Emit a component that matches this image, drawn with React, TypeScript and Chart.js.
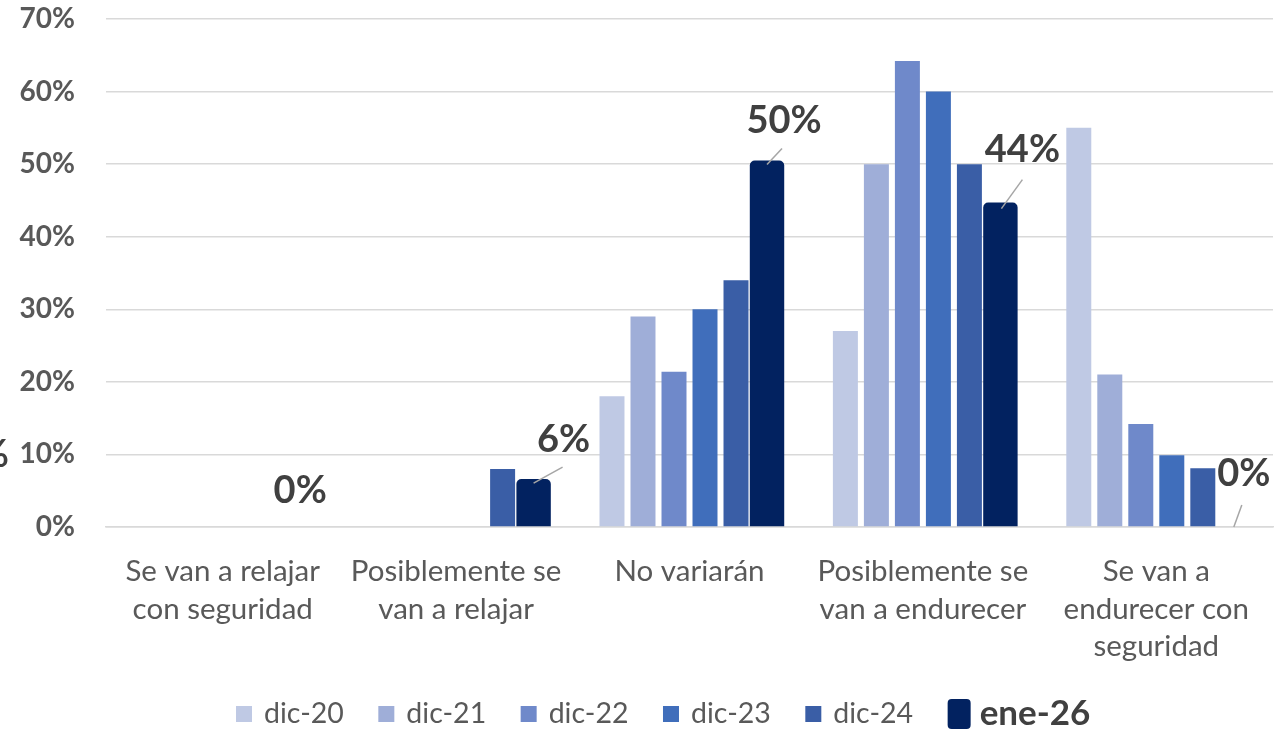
import React, { useEffect, useRef } from "react";
import { Chart, registerables } from "chart.js";

Chart.register(...registerables);

const categories: string[][] = [
  ["Se van a relajar", "con seguridad"],
  ["Posiblemente se", "van a relajar"],
  ["No variarán"],
  ["Posiblemente se", "van a endurecer"],
  ["Se van a", "endurecer con", "seguridad"],
];
const seriesNames = ["dic-20", "dic-21", "dic-22", "dic-23", "dic-24", "ene-26"];
const dic20 = [0, 0, 18, 27, 55];
const dic21 = [0, 0, 29, 50, 21];
const dic22 = [0, 0, 21.4, 64.2, 14.2];
const dic23 = [0, 0, 30, 60, 9.9];
const dic24 = [0, 8, 34, 50, 8.1];
const ene26 = [0, 6.6, 50.5, 44.7, 0];
const ene26Labels = ["0%", "6%", "50%", "44%", "0%"];
const yTickValues = [0, 10, 20, 30, 40, 50, 60, 70];

const seriesColors = ["#BFC9E4", "#9FAED8", "#6F89CA", "#406EBB", "#3A5EA6", "#022260"];
// label text offset (dx, dy) and leader line (x1,y1,x2,y2) relative to bar top
const labelStyle = [
  { dx: 0, dy: -36, line: null as null | number[] },
  { dx: 30, dy: -39, line: [0, 4, 29, -12] },
  { dx: 17, dy: -40, line: [0, 4, 15, -12] },
  { dx: 22, dy: -53, line: [1, 6, 22, -23] },
  { dx: 10, dy: -53, line: [0, 0, 8, -22] },
];

const FONT = "Lato, 'Noto Sans', sans-serif";

const labelsPlugin = {
  id: "eneLabels",
  afterDatasetsDraw(chart: any) {
    const ctx = chart.ctx;
    const meta = chart.getDatasetMeta(5);
    ctx.save();
    meta.data.forEach((el: any, i: number) => {
      const st = labelStyle[i];
      if (st.line) {
        ctx.strokeStyle = "#A6A6A6";
        ctx.lineWidth = 1.5;
        ctx.beginPath();
        ctx.moveTo(el.x + st.line[0], el.y + st.line[1]);
        ctx.lineTo(el.x + st.line[2], el.y + st.line[3]);
        ctx.stroke();
      }
      ctx.fillStyle = "#404040";
      ctx.font = `bold 38px ${FONT}`;
      ctx.textAlign = "center";
      ctx.textBaseline = "middle";
      ctx.fillText(ene26Labels[i], el.x + st.dx, el.y + st.dy);
    });
    // stray clipped label at left edge
    ctx.textAlign = "right";
    ctx.fillText("%", 9, 455);
    ctx.restore();
  },
  afterDraw(chart: any) {
    const ctx = chart.ctx;
    ctx.save();
    let x = 236;
    const yc = 714;
    ctx.textBaseline = "middle";
    ctx.textAlign = "left";
    seriesNames.forEach((name, i) => {
      const last = i === seriesNames.length - 1;
      ctx.fillStyle = seriesColors[i];
      if (!last) {
        ctx.fillRect(x, yc - 8, 16, 16);
        x += 16 + 12;
        ctx.font = `28.5px ${FONT}`;
        ctx.fillStyle = "#595959";
        ctx.fillText(name, x, yc);
        x += ctx.measureText(name).width + 34.5;
      } else {
        ctx.beginPath();
        (ctx as any).roundRect(x, yc - 15, 23, 30, 4);
        ctx.fill();
        x += 23 + 9;
        ctx.font = `bold 35px ${FONT}`;
        ctx.fillStyle = "#404040";
        ctx.fillText(name, x, yc);
      }
    });
    ctx.restore();
  },
};

export default function App() {
  const ref = useRef<HTMLCanvasElement | null>(null);
  useEffect(() => {
    if (!ref.current) return;
    const series = [dic20, dic21, dic22, dic23, dic24, ene26];
    const chart = new Chart(ref.current, {
      type: "bar",
      data: {
        labels: categories,
        datasets: series.map((d, i) => ({
          label: seriesNames[i],
          data: d,
          backgroundColor: seriesColors[i],
          categoryPercentage: 0.797,
          barPercentage: i === 5 ? 1.11 : 0.806,
          borderRadius: i === 5 ? { topLeft: 5, topRight: 5, bottomLeft: 0, bottomRight: 0 } : 0,
          borderSkipped: "bottom",
        })),
      },
      options: {
        responsive: false,
        animation: false,
        layout: { padding: { top: 19, right: 8, bottom: 57, left: 0 } },
        plugins: {
          legend: { display: false },
          tooltip: { enabled: false },
        },
        scales: {
          x: {
            grid: { display: false },
            border: { color: "#D9D9D9", width: 1.5 },
            ticks: {
              color: "#595959",
              font: { family: FONT, size: 29.5, lineHeight: 1.27 },
              padding: 18,
              maxRotation: 0,
              autoSkip: false,
            },
            afterFit: (s: any) => {
              s.height = 145;
              s.paddingLeft = 0;
              s.paddingRight = 0;
            },
          },
          y: {
            min: 0,
            max: 70,
            afterBuildTicks: (s: any) => {
              s.ticks = yTickValues.map((v) => ({ value: v }));
            },
            grid: { color: "#D9D9D9", lineWidth: 1.5, drawTicks: false },
            border: { display: false },
            ticks: {
              color: "#595959",
              font: { family: FONT, size: 28, weight: "bold" },
              padding: 31,
              callback: (v: any) => `${v}%`,
            },
            afterFit: (s: any) => {
              s.width = 106;
              s.paddingTop = 0;
              s.paddingBottom = 0;
            },
          },
        },
      },
      plugins: [labelsPlugin],
    });
    return () => chart.destroy();
  }, []);
  return (
    <div style={{ position: "absolute", left: 0, top: 0, width: 1281, height: 729, background: "#fff" }}>
      <canvas ref={ref} width={1281} height={729} />
    </div>
  );
}
